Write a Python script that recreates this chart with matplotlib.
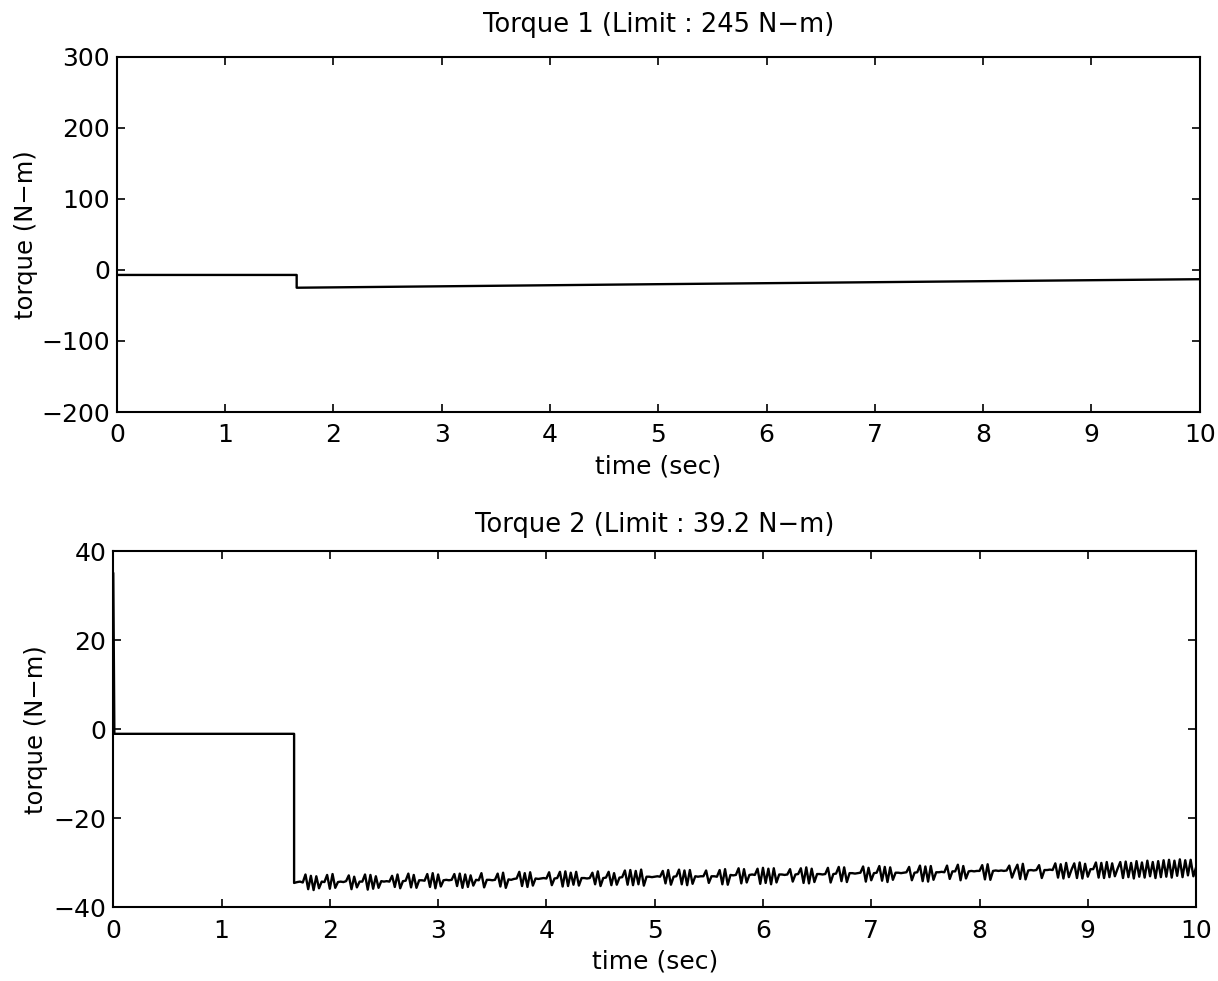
import numpy as np
import matplotlib
matplotlib.use("Agg")
import matplotlib.pyplot as plt

plt.rcParams['font.family'] = ['DejaVu Sans']

# torque 1 : step at ~1.66 s then slow drift
t1 = [0.0, 1.66, 1.66, 5.0, 10.0]
torque1 = [-7, -7, -25, -20, -13]

# torque 2 : initial spike, flat until ~1.67 s, then noisy level
t2_head = [0.0, 0.01, 1.67, 1.67]
torque2_head = [35, -1, -1, -34.5]

# sampled every 0.025 s from 1.70 s to 10 s
torque2_noisy = [
    -34.3, -34.2, -34.4, -32.6, -35.9, -32.9, -36.1, -33.0, -35.7, -34.2, -34.3, -32.7, -35.8, -32.5, -35.6, -34.3, -34.2, -34.3, -34.1, -32.8,
    -35.9, -33.1, -35.5, -34.2, -34.2, -32.6, -36.0, -32.7, -35.8, -33.0, -35.6, -34.1, -34.2, -34.1, -34.2, -32.9, -35.4, -32.6, -35.7, -34.1,
    -34.0, -32.4, -35.5, -32.7, -35.6, -33.9, -33.9, -34.0, -32.5, -35.4, -32.3, -35.7, -32.6, -35.3, -33.9, -33.8, -33.9, -33.8, -32.5, -35.2,
    -32.4, -35.6, -32.6, -35.4, -32.8, -35.1, -33.8, -33.9, -32.3, -35.5, -33.8, -33.8, -33.9, -33.8, -32.4, -35.3, -32.2, -35.6, -33.7, -33.8,
    -33.6, -33.5, -32.0, -35.2, -32.3, -35.4, -32.1, -35.1, -33.5, -33.6, -33.5, -33.4, -33.5, -32.1, -35.0, -33.5, -33.4, -32.0, -35.3, -31.9,
    -35.2, -32.2, -34.9, -32.0, -35.1, -33.4, -33.4, -33.5, -33.4, -32.2, -34.8, -31.9, -35.2, -33.4, -33.3, -32.0, -35.0, -32.3, -34.9, -33.3,
    -33.2, -31.7, -34.9, -31.6, -35.0, -31.8, -34.8, -31.5, -35.1, -33.1, -33.1, -33.2, -33.1, -33.0, -33.1, -31.8, -34.6, -31.6, -34.9, -33.1,
    -33.0, -31.5, -34.8, -31.7, -35.0, -31.6, -34.7, -33.0, -33.1, -33.0, -33.0, -31.7, -34.5, -33.0, -33.0, -33.1, -31.6, -34.8, -31.4, -34.9,
    -32.7, -32.8, -32.7, -31.2, -34.6, -31.4, -34.4, -32.7, -32.6, -32.7, -31.3, -34.7, -31.1, -34.5, -31.3, -34.8, -31.2, -34.4, -32.6, -32.6,
    -32.7, -32.6, -31.4, -34.2, -32.6, -32.5, -31.2, -34.5, -31.0, -34.6, -31.3, -34.3, -32.5, -32.5, -32.6, -32.5, -31.1, -34.4, -32.5, -32.4,
    -30.9, -34.1, -31.0, -34.3, -32.3, -32.3, -32.4, -32.3, -32.2, -30.8, -34.2, -31.1, -33.9, -32.3, -32.2, -30.7, -34.0, -30.9, -34.3, -31.0,
    -33.8, -32.2, -32.2, -32.3, -32.2, -32.1, -30.9, -33.9, -32.2, -32.1, -30.6, -34.1, -30.8, -34.2, -30.7, -33.8, -32.1, -32.1, -32.0, -32.1,
    -30.6, -33.6, -31.9, -31.9, -30.4, -33.9, -30.7, -33.5, -31.9, -31.8, -31.9, -31.8, -31.8, -30.5, -33.7, -30.3, -33.8, -31.8, -31.7, -31.8,
    -31.7, -31.8, -31.7, -30.6, -33.3, -31.7, -30.4, -33.6, -30.2, -33.7, -31.7, -31.6, -31.7, -31.6, -30.5, -33.4, -31.6, -31.6, -31.5, -31.6,
    -30.1, -33.3, -30.3, -33.5, -30.0, -33.2, -31.5, -30.1, -33.4, -29.9, -33.5, -30.2, -33.1, -31.4, -31.4, -29.9, -33.3, -30.0, -33.4, -29.8,
    -33.2, -30.1, -33.0, -31.3, -29.8, -33.4, -29.7, -33.2, -30.0, -33.5, -29.6, -33.1, -29.9, -33.3, -29.5, -33.0, -29.8, -33.4, -29.6, -33.2,
    -29.4, -33.1, -29.3, -33.3, -29.5, -32.9, -29.2, -33.2, -29.4, -32.8, -29.3, -33.0, -31.0,
]
t2_noisy = np.linspace(1.70, 10.0, len(torque2_noisy))

xticks = list(range(0, 11))
yticks1 = [-200, -100, 0, 100, 200, 300]
yticks2 = [-40, -20, 0, 20, 40]


def style(ax):
    ax.tick_params(direction='in', top=True, right=True, length=6,
                   width=1.2, labelsize=18)
    ax.tick_params(axis='x', pad=8)
    ax.tick_params(axis='y', pad=5)
    for s in ax.spines.values():
        s.set_linewidth(1.5)


fig = plt.figure(figsize=(12.18, 9.81), dpi=100)

ax1 = fig.add_axes([0.096, 0.580, 0.889, 0.362])
ax1.plot(t1, torque1, color='black', lw=1.7)
ax1.set_xlim(0, 10)
ax1.set_ylim(-200, 300)
ax1.set_xticks(xticks)
ax1.set_yticks(yticks1)
ax1.set_title('Torque 1 (Limit : 245 N\u2212m)', fontsize=18.5, pad=18)
ax1.set_xlabel('time (sec)', fontsize=18, labelpad=5)
ax1.set_ylabel('torque (N\u2212m)', fontsize=17.5, labelpad=2)
style(ax1)

ax2 = fig.add_axes([0.093, 0.075, 0.889, 0.363])
ax2.plot(np.concatenate([t2_head, t2_noisy]),
         np.concatenate([torque2_head, torque2_noisy]),
         color='black', lw=1.7)
ax2.set_xlim(0, 10)
ax2.set_ylim(-40, 40)
ax2.set_xticks(xticks)
ax2.set_yticks(yticks2)
ax2.set_title('Torque 2 (Limit : 39.2 N\u2212m)', fontsize=18.5, pad=14)
ax2.set_xlabel('time (sec)', fontsize=18, labelpad=5)
ax2.set_ylabel('torque (N\u2212m)', fontsize=17.5, labelpad=4)
style(ax2)

fig.savefig('out.png', dpi=100)
